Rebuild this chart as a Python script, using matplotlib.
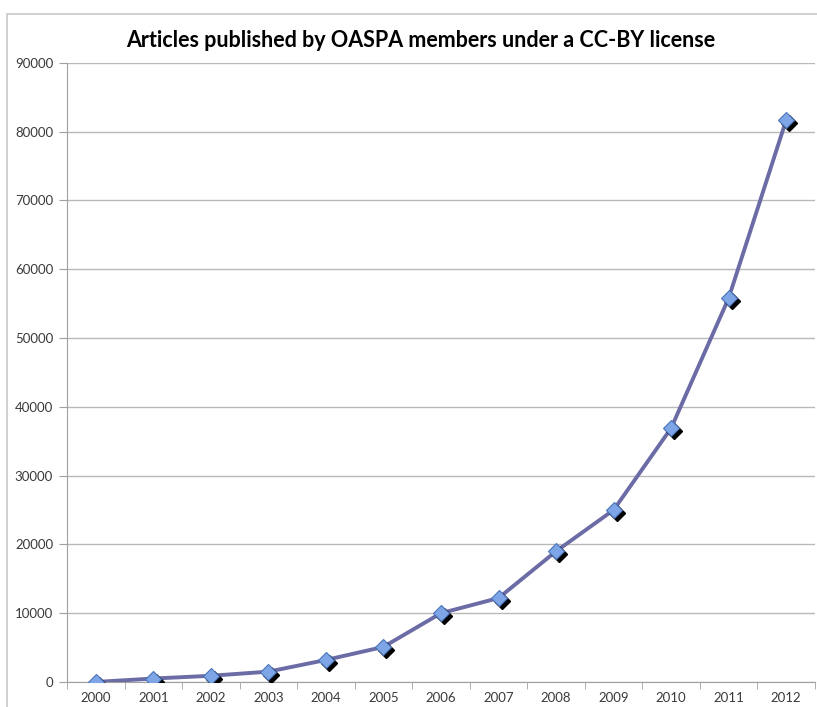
import numpy as np
import matplotlib
matplotlib.use("Agg")
import matplotlib.pyplot as plt
import matplotlib.transforms as mtr
from matplotlib.patches import Rectangle

years = ["2000", "2001", "2002", "2003", "2004", "2005", "2006",
         "2007", "2008", "2009", "2010", "2011", "2012"]
articles = [0, 500, 900, 1500, 3200, 5100, 10000,
            12200, 19000, 25000, 36900, 55800, 81700]

plt.rcParams['font.family'] = ['Lato', 'DejaVu Sans']

fig = plt.figure(figsize=(8.17, 7.07), dpi=100)
ax = fig.add_axes([0.082, 0.0354, 0.9155, 0.8756])

# chart frame
fig.patches.append(Rectangle((0.008, -0.01), 1.0, 0.99, transform=fig.transFigure,
                             fill=False, edgecolor="#c8c8c8", linewidth=1.2))

x = np.arange(len(years))
shadow = mtr.offset_copy(ax.transData, fig=fig, x=3, y=-3, units='dots')
ax.plot(x, articles, color="#6b6ba6", linewidth=2.8, zorder=3)
ax.plot(x, articles, linestyle="none", marker="D", markersize=8,
        color="black", transform=shadow, zorder=3)
ax.plot(x, articles, linestyle="none", marker="D", markersize=8,
        markerfacecolor="#7ea6e6", markeredgecolor="#4a72b8",
        markeredgewidth=0.8, zorder=4)

ax.set_xlim(-0.5, len(years) - 0.5)
ax.set_ylim(0, 90000)
ax.set_yticks(np.arange(0, 90001, 10000))
ax.set_xticks(x)
ax.set_xticklabels(years)
ax.set_xticks(np.arange(-0.5, len(years)), minor=True)
ax.tick_params(axis='x', which='major', length=0, pad=7, labelsize=9.5, labelcolor="#3a3a3a")
ax.tick_params(axis='x', which='minor', length=5, color="#a0a0a0")
ax.tick_params(axis='y', length=6, color="#a0a0a0", pad=4, labelsize=9.5, labelcolor="#3a3a3a")

ax.yaxis.grid(True, color="#b8b8b8", linewidth=1)
ax.set_axisbelow(True)
for s in ["top", "right"]:
    ax.spines[s].set_visible(False)
for s in ["left", "bottom"]:
    ax.spines[s].set_color("#a0a0a0")

fig.text(0.515, 0.943, "Articles published by OASPA members under a CC-BY license",
         ha="center", va="center", fontsize=15.5, fontweight="bold")

fig.savefig("out.png", dpi=100)
